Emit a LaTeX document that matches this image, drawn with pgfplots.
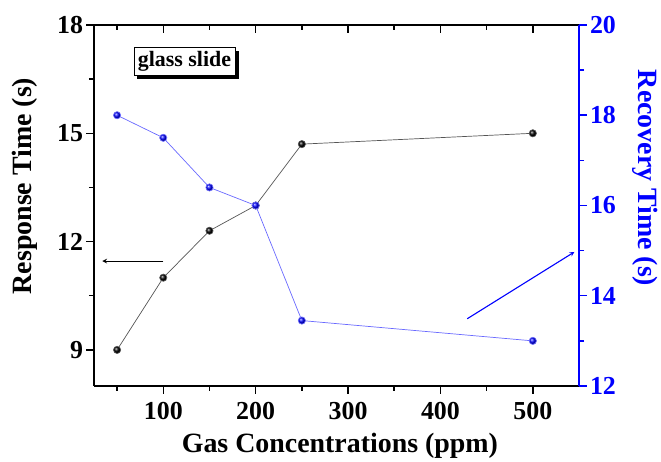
\documentclass[border=0pt]{standalone}
\usepackage{fontspec}
\setmainfont{Liberation Serif}
\usepackage{pgfplots}
\pgfplotsset{compat=1.18}
\usetikzlibrary{shadows}

\definecolor{recblue}{RGB}{0,0,255}
\definecolor{recline}{RGB}{105,105,255}
\definecolor{resline}{RGB}{85,85,85}

\pgfplotsset{
  base/.style={
    scale only axis, width=485bp, height=361bp,
    xmin=25, xmax=550,
    /pgf/number format/assume math mode=true,
    tick label style={font=\fontsize{26}{26}\selectfont\bfseries},
    label style={font=\fontsize{28}{28}\selectfont\bfseries},
    axis line style={line width=1.4bp},
    major tick length=7.5bp, minor tick length=5bp,
    tick align=outside,
    xtick={100,200,...,500}, minor xtick={50,150,...,450},
  }
}

\begin{document}
\begin{tikzpicture}
% page frame
\path (-94bp,-73bp) rectangle (567bp,386bp);

% response time (left axis)
\begin{axis}[base, axis x line*=bottom, axis y line*=left, clip=false,
  ymin=8, ymax=18, ytick={9,12,15,18}, minor y tick num=1,
  every tick/.style={draw=black, line width=1.5bp},
  xticklabel style={yshift=-5bp},
  xlabel={Gas Concentrations (ppm)}, ylabel={Response Time (s)},
  xlabel style={at={(axis description cs:0.507,-0.183)}, anchor=base},
  ylabel style={at={(axis description cs:-0.142,0.554)}, anchor=center}]
% top edge of the frame
\draw[line width=1.4bp] (axis cs:25,18) -- (axis cs:550,18);
% tick marks: outward on the left and bottom, inward along the top
\draw[line width=1.5bp]
  (axis cs:25,9)  -- (axis cs:16.88,9)
  (axis cs:25,12) -- (axis cs:16.88,12)
  (axis cs:25,15) -- (axis cs:16.88,15)
  (axis cs:25,18) -- (axis cs:16.88,18)
  (axis cs:25,10.5) -- (axis cs:19.59,10.5)
  (axis cs:25,13.5) -- (axis cs:19.59,13.5)
  (axis cs:25,16.5) -- (axis cs:19.59,16.5)
  (axis cs:100,8) -- (axis cs:100,7.792)
  (axis cs:200,8) -- (axis cs:200,7.792)
  (axis cs:300,8) -- (axis cs:300,7.792)
  (axis cs:400,8) -- (axis cs:400,7.792)
  (axis cs:500,8) -- (axis cs:500,7.792)
  (axis cs:50,8)  -- (axis cs:50,7.862)
  (axis cs:150,8) -- (axis cs:150,7.862)
  (axis cs:250,8) -- (axis cs:250,7.862)
  (axis cs:350,8) -- (axis cs:350,7.862)
  (axis cs:450,8) -- (axis cs:450,7.862)
  (axis cs:100,18) -- (axis cs:100,17.792)
  (axis cs:200,18) -- (axis cs:200,17.792)
  (axis cs:300,18) -- (axis cs:300,17.792)
  (axis cs:400,18) -- (axis cs:400,17.792)
  (axis cs:500,18) -- (axis cs:500,17.792)
  (axis cs:50,18)  -- (axis cs:50,17.862)
  (axis cs:150,18) -- (axis cs:150,17.862)
  (axis cs:250,18) -- (axis cs:250,17.862)
  (axis cs:350,18) -- (axis cs:350,17.862)
  (axis cs:450,18) -- (axis cs:450,17.862);
\addplot[resline, line width=0.7bp, mark=ball, mark size=3.6bp,
  mark options={ball color=black}] coordinates {
  (50,9) (100,11) (150,12.3) (200,13) (250,14.7) (500,15)};
\draw[-stealth, line width=1.1bp] (axis cs:100,11.46) -- (axis cs:34,11.46);
\node[draw, fill=white, line width=0.8bp, inner sep=4bp,
  font=\fontsize{22}{22}\selectfont\bfseries,
  drop shadow={shadow xshift=3.5bp, shadow yshift=-3.5bp, fill=black, opacity=1}]
  at (axis cs:123,17.0) {glass slide};
\end{axis}

% recovery time (right axis)
\begin{axis}[base, axis x line=none, axis y line*=right, clip=false,
  ymin=12, ymax=20, ytick={12,14,16,18,20}, minor y tick num=1,
  y axis line style={draw=recblue},
  every tick/.style={draw=recblue, line width=1.5bp},
  tick label style={text=recblue},
  ylabel={Recovery Time (s)},
  ylabel style={text=recblue, rotate=180,
    at={(axis description cs:1.136,0.576)}, anchor=center}]
\draw[recblue, line width=1.5bp]
  (axis cs:550,12) -- (axis cs:558.12,12)
  (axis cs:550,14) -- (axis cs:558.12,14)
  (axis cs:550,16) -- (axis cs:558.12,16)
  (axis cs:550,18) -- (axis cs:558.12,18)
  (axis cs:550,20) -- (axis cs:558.12,20)
  (axis cs:550,13) -- (axis cs:555.41,13)
  (axis cs:550,15) -- (axis cs:555.41,15)
  (axis cs:550,17) -- (axis cs:555.41,17)
  (axis cs:550,19) -- (axis cs:555.41,19);
\addplot[recline, line width=0.7bp, mark=ball, mark size=3.6bp,
  mark options={ball color=recblue}] coordinates {
  (50,18) (100,17.5) (150,16.4) (200,16) (250,13.45) (500,13)};
\draw[-stealth, recblue, line width=1.1bp] (axis cs:429,13.49) -- (axis cs:545,14.97);
\end{axis}
\end{tikzpicture}
\end{document}
